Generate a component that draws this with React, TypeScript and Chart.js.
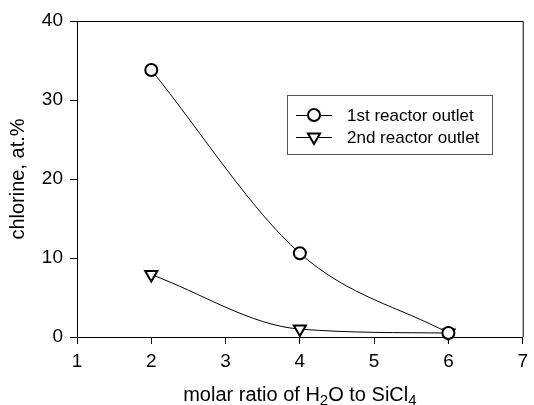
import React, { useEffect, useRef } from "react";
import { Chart, registerables } from "chart.js";

Chart.register(...registerables);

const molarRatio = [2, 4, 6];
const firstReactor = [33.8, 10.6, 0.5];
const secondReactor = [7.9, 1.0, 0.5];
const seriesNames = ["1st reactor outlet", "2nd reactor outlet"];
const xTicks = [1, 2, 3, 4, 5, 6, 7];
const yTicks = [0, 10, 20, 30, 40];

const FONT = "'Liberation Sans', Arial, Helvetica, sans-serif";

function drawMarker(ctx: CanvasRenderingContext2D, kind: string, x: number, y: number) {
  ctx.save();
  ctx.fillStyle = "#fff";
  ctx.strokeStyle = "#000";
  ctx.lineWidth = 2;
  ctx.beginPath();
  if (kind === "circle") {
    ctx.arc(x, y, 6, 0, Math.PI * 2);
  } else {
    const r = 7;
    ctx.moveTo(x, y + r);
    ctx.lineTo(x + r * Math.sin((2 * Math.PI) / 3), y - r * 0.5);
    ctx.lineTo(x - r * Math.sin((2 * Math.PI) / 3), y - r * 0.5);
    ctx.closePath();
  }
  ctx.fill();
  ctx.stroke();
  ctx.restore();
}

const decorPlugin = {
  id: "decor",
  afterDraw(chart: any) {
    const ctx: CanvasRenderingContext2D = chart.ctx;
    const a = chart.chartArea;
    ctx.save();
    // frame top/right
    ctx.strokeStyle = "#000";
    ctx.lineWidth = 1;
    ctx.beginPath();
    ctx.moveTo(a.left, a.top + 0.5);
    ctx.lineTo(a.right + 0.5, a.top + 0.5);
    ctx.lineTo(a.right + 0.5, a.bottom);
    ctx.stroke();

    // legend
    const bx = 287.5, by = 95.5, bw = 205, bh = 59;
    ctx.strokeStyle = "#555";
    ctx.strokeRect(bx, by, bw, bh);
    const rows = [115, 137];
    const kinds = ["circle", "triangle"];
    ctx.font = `17px ${FONT}`;
    ctx.textBaseline = "middle";
    ctx.textAlign = "left";
    rows.forEach((ry, i) => {
      ctx.strokeStyle = "#000";
      ctx.lineWidth = 1;
      ctx.beginPath();
      ctx.moveTo(296, ry + 0.5);
      ctx.lineTo(332, ry + 0.5);
      ctx.stroke();
      drawMarker(ctx, kinds[i], 314, ry);
      ctx.fillStyle = "#000";
      ctx.fillText(seriesNames[i], 347, ry + 1);
    });

    // y title
    ctx.save();
    ctx.translate(18, (a.top + a.bottom) / 2);
    ctx.rotate(-Math.PI / 2);
    ctx.font = `20px ${FONT}`;
    ctx.textAlign = "center";
    ctx.textBaseline = "middle";
    ctx.fillStyle = "#000";
    ctx.fillText("chlorine, at.%", 0, 0);
    ctx.restore();

    // x title with subscripts
    const parts: [string, boolean][] = [
      ["molar ratio of H", false],
      ["2", true],
      ["O to SiCl", false],
      ["4", true],
    ];
    const big = `20px ${FONT}`;
    const small = `15px ${FONT}`;
    let total = 0;
    parts.forEach(([t, sub]) => {
      ctx.font = sub ? small : big;
      total += ctx.measureText(t).width;
    });
    let x = (a.left + a.right) / 2 - total / 2;
    const base = 401;
    ctx.textAlign = "left";
    ctx.textBaseline = "alphabetic";
    ctx.fillStyle = "#000";
    parts.forEach(([t, sub]) => {
      ctx.font = sub ? small : big;
      ctx.fillText(t, x, sub ? base + 4 : base);
      x += ctx.measureText(t).width;
    });
    ctx.restore();
  },
};

export default function App() {
  const ref = useRef<HTMLCanvasElement>(null);
  useEffect(() => {
    document.body.style.margin = "0";
    const chart = new Chart(ref.current!, {
      type: "line",
      data: {
        datasets: [
          {
            label: seriesNames[0],
            data: molarRatio.map((x, i) => ({ x, y: firstReactor[i] })),
            borderColor: "#000",
            borderWidth: 1,
            cubicInterpolationMode: "monotone",
            pointStyle: "circle",
            pointRadius: 6,
            pointBorderWidth: 2,
            pointBackgroundColor: "#fff",
            pointBorderColor: "#000",
          },
          {
            label: seriesNames[1],
            data: molarRatio.map((x, i) => ({ x, y: secondReactor[i] })),
            borderColor: "#000",
            borderWidth: 1,
            cubicInterpolationMode: "monotone",
            pointStyle: "triangle",
            rotation: 180,
            pointRadius: 7,
            pointBorderWidth: 2,
            pointBackgroundColor: "#fff",
            pointBorderColor: "#000",
          },
        ],
      },
      options: {
        responsive: false,
        devicePixelRatio: 1,
        animation: false,
        clip: false,
        layout: { padding: { top: 21, right: 5, left: 0, bottom: 0 } },
        plugins: { legend: { display: false }, tooltip: { enabled: false } },
        scales: {
          x: {
            type: "linear",
            min: xTicks[0],
            max: xTicks[xTicks.length - 1],
            afterBuildTicks: (s: any) => {
              s.ticks = xTicks.map((v) => ({ value: v }));
            },
            afterFit: (s: any) => {
              s.height = 68;
            },
            ticks: { color: "#000", font: { family: FONT, size: 19 }, padding: 6, maxRotation: 0 },
            grid: { drawOnChartArea: false, tickLength: 7, color: "#000" },
            border: { color: "#000", width: 1 },
          },
          y: {
            min: yTicks[0],
            max: yTicks[yTicks.length - 1],
            afterBuildTicks: (s: any) => {
              s.ticks = yTicks.map((v) => ({ value: v }));
            },
            afterFit: (s: any) => {
              s.width = 77;
            },
            ticks: { color: "#000", font: { family: FONT, size: 19 }, padding: 7 },
            grid: { drawOnChartArea: false, tickLength: 7, color: "#000" },
            border: { color: "#000", width: 1 },
          },
        },
      },
      plugins: [decorPlugin],
    } as any);
    return () => chart.destroy();
  }, []);
  return <canvas ref={ref} width={534} height={405} style={{ display: "block" }} />;
}
